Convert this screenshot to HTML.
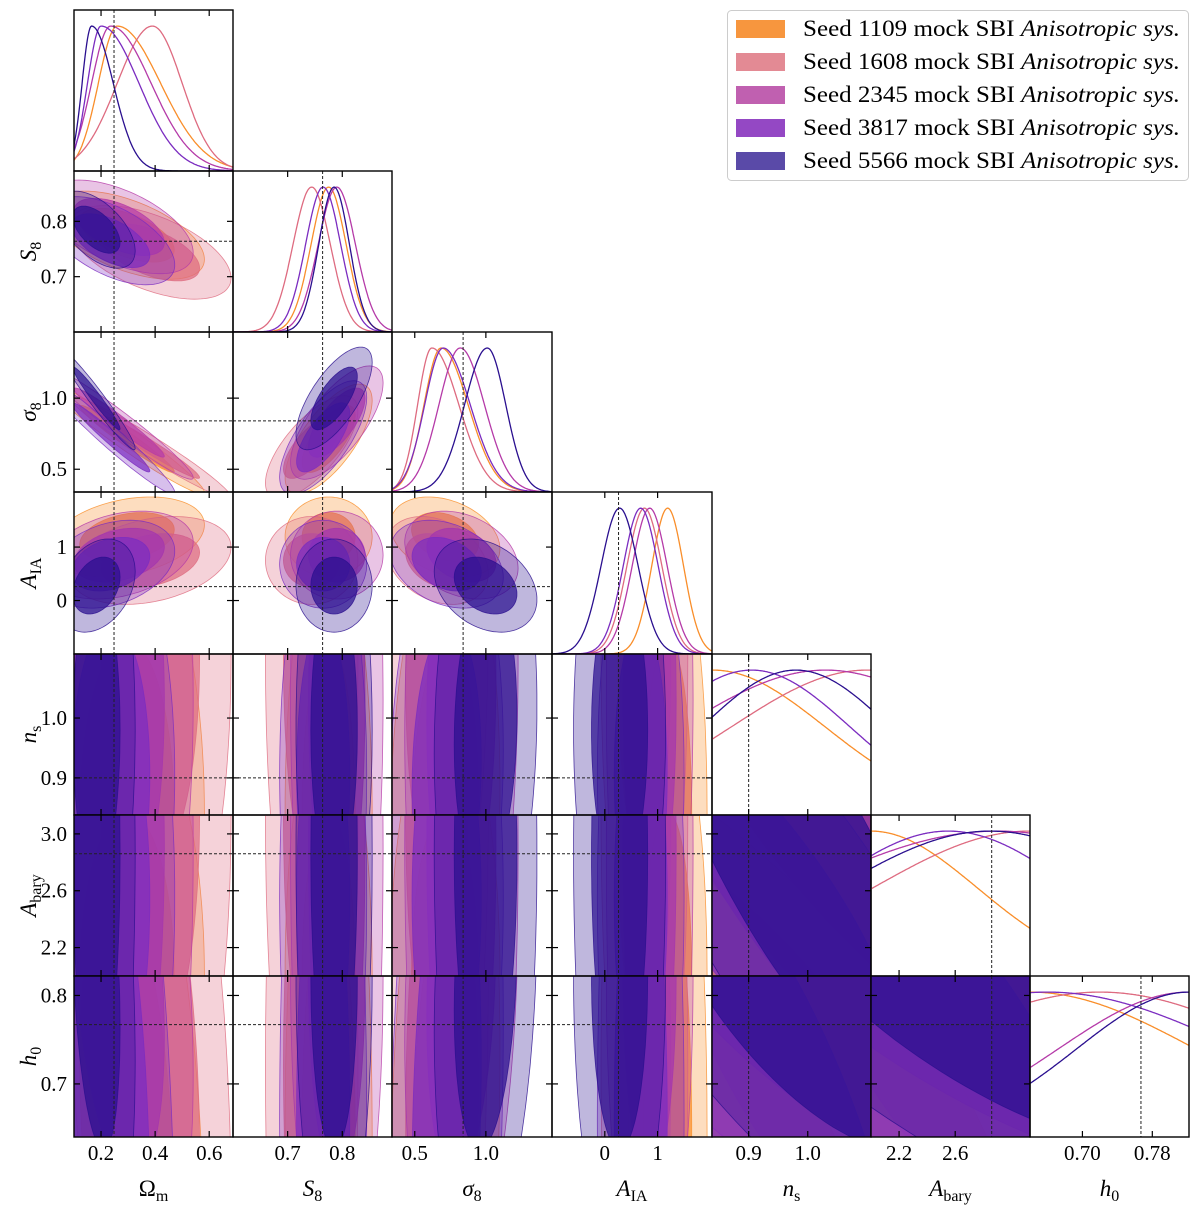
<!DOCTYPE html>
<html><head><meta charset="utf-8"><style>
html,body{margin:0;padding:0;background:#fff;width:1200px;height:1210px;overflow:hidden}
svg{display:block;font-family:"Liberation Serif","DejaVu Serif",serif}
</style></head><body>
<svg id="fig" width="1200" height="1210" viewBox="0 0 1200 1210" xmlns="http://www.w3.org/2000/svg">
<g id="legend">
<rect x="727.5" y="10.5" width="461" height="170" rx="4" fill="#fff" stroke="#ccc"/>
</g>
</svg>
<script>
const seedNames = ["1109","1608","2345","3817","5566"];
const seedColors = ["#f98e2a","#de6b80","#b53aa8","#7b2cc0","#2a0f8f"];
const swatchColors = ["#f7963e","#e38a94","#c060b0","#9448c4","#5a4aa8"];
const paramNames = ["Om","S8","sigma8","AIA","ns","Abary","h0"];
const truth = [0.248,0.764,0.84,0.26,0.9,2.86,0.767];
// per-parameter peak positions for each seed (1109,1608,2345,3817,5566)
const peakOm = [0.26,0.39,0.235,0.20,0.165];
const sdLoOm = [0.07,0.13,0.07,0.05,0.035];
const sdHiOm = [0.16,0.11,0.15,0.14,0.08];
const peakS8 = [0.775,0.744,0.79,0.765,0.785];
const sdS8 = [0.032,0.034,0.034,0.032,0.028];
const peakSig8 = [0.685,0.62,0.82,0.70,1.01];
const sdLoSig8 = [0.12,0.10,0.15,0.13,0.16];
const sdHiSig8 = [0.19,0.19,0.17,0.19,0.13];
const peakAIA = [1.19,0.75,0.85,0.68,0.28];
const sdAIA = [0.30,0.33,0.33,0.33,0.35];
const peakNs = [0.84,1.10,1.03,0.905,0.98];
const sdNs = [0.19,0.23,0.245,0.167,0.16];
const peakAbary = [2.0,3.13,2.9,2.55,2.85];
const sdAbary = [0.76,1.12,1.4,0.9,1.1];
const peakH0 = [0.64,0.72,0.822,0.66,0.822];
const sdH0 = [0.19,0.21,0.15,0.22,0.129];
// correlation between parameter pairs, "i-j"
const corrPairs = ["0-1","0-2","1-2","0-3","1-3","2-3","2-4","4-5","0-6","2-6","4-6","5-6"];
const corrValues = [-0.55,-0.97,0.7,0.3,0.0,-0.3,0.1,-0.8,-0.3,0.2,-0.7,-0.7];
const ticksByParam = [[0.2,0.4,0.6],[0.7,0.8],[0.5,1.0],[0,1],[0.9,1.0],[2.2,2.6,3.0],[0.7,0.8]];
const xTickLabelsByParam = [["0.2","0.4","0.6"],["0.7","0.8"],["0.5","1.0"],["0","1"],["0.9","1.0"],["2.2","2.6",""],["0.70","0.78"]];
const yTickLabelsByParam = [["0.2","0.4","0.6"],["0.7","0.8"],["0.5","1.0"],["0","1"],["0.9","1.0"],["2.2","2.6","3.0"],["0.7","0.8"]];
const xTicksH0 = [0.70,0.78];

const peaks=[peakOm,peakS8,peakSig8,peakAIA,peakNs,peakAbary,peakH0];
const sdLo=[sdLoOm,sdS8,sdLoSig8,sdAIA,sdNs,sdAbary,sdH0];
const sdHi=[sdHiOm,sdS8,sdHiSig8,sdAIA,sdNs,sdAbary,sdH0];
const ranges=[[0.1,0.688],[0.6,0.891],[0.34,1.465],[-1.0,2.03],[0.838,1.107],[2.0,3.133],[0.64,0.822]];
const XE=[74,233,392,552,712,871,1030,1189];
const YE=[10,171,332,492,654,815,976,1137];
const NS="http://www.w3.org/2000/svg";
const svg=document.getElementById('fig');
function mk(tag,attrs,parent){const e=document.createElementNS(NS,tag);for(const k in attrs)e.setAttribute(k,attrs[k]);(parent||svg).appendChild(e);return e;}
function sx(p,v){const r=ranges[p];return XE[p]+(v-r[0])/(r[1]-r[0])*(XE[p+1]-XE[p]);}
function sy(p,v){const r=ranges[p];return YE[p+1]-(v-r[0])/(r[1]-r[0])*(YE[p+1]-YE[p]);}
function corr(i,j){const k=corrPairs.indexOf(Math.min(i,j)+"-"+Math.max(i,j));return k<0?0:corrValues[k];}
function splitN(v,m,a,b){const s=v<m?a:b;return Math.exp(-0.5*((v-m)/s)**2);}
const defs=mk('defs',{});
for(let i=0;i<7;i++){for(let j=0;j<=i;j++){
  const x0=XE[j],x1=XE[j+1],y0=YE[i],y1=YE[i+1];
  const cp=mk('clipPath',{id:'c'+i+'_'+j},defs);mk('rect',{x:x0,y:y0,width:x1-x0,height:y1-y0},cp);
  const g=mk('g',{'clip-path':'url(#c'+i+'_'+j+')'});
  
  
  if(i===j){
    const r=ranges[i];const H=y1-y0;
    for(let s=0;s<5;s++){
      const pts=[];let mx=0;const vals=[];
      for(let k=0;k<=200;k++){const v=r[0]+(r[1]-r[0])*k/200;const d=splitN(v,peaks[i][s],sdLo[i][s],sdHi[i][s]);vals.push([v,d]);if(d>mx)mx=d;}
      for(const [v,d] of vals)pts.push(sx(i,v).toFixed(1)+','+(y1-0.9*H*d/mx).toFixed(1));
      const pl=mk('polyline',{points:pts.join(' '),fill:'none',stroke:seedColors[s],'stroke-width':1.3},g);
      
      
    }
  } else {
    const rho=corr(i,j);
    for(let s=0;s<5;s++){
      const cx=peaks[j][s]+(sdHi[j][s]-sdLo[j][s])*0.4, cy=peaks[i][s]+(sdHi[i][s]-sdLo[i][s])*0.4;
      const ax=(sdLo[j][s]+sdHi[j][s])/2, ay=(sdLo[i][s]+sdHi[i][s])/2;
      [[2.49,0.3],[1.52,0.72]].forEach(([kk,op],lvl)=>{
        const pts=[];
        for(let t=0;t<=120;t++){const a=t/120*2*Math.PI;const u=Math.cos(a),w=Math.sin(a);
          const vx=cx+kk*ax*u, vy=cy+kk*ay*(rho*u+Math.sqrt(1-rho*rho)*w);
          pts.push(sx(j,vx).toFixed(1)+','+sy(i,vy).toFixed(1));}
        const pg=mk('polygon',{points:pts.join(' '),fill:seedColors[s],'fill-opacity':op,stroke:seedColors[s],'stroke-opacity':0.8,'stroke-width':0.8},g);
        
        
      });
    }
    const hl=mk('line',{x1:x0,x2:x1,y1:sy(i,truth[i]),y2:sy(i,truth[i]),stroke:'#222','stroke-width':1,'stroke-dasharray':'3,2'},g);
    
    
  }
  const vl=mk('line',{x1:sx(j,truth[j]),x2:sx(j,truth[j]),y1:y0,y2:y1,stroke:'#222','stroke-width':1,'stroke-dasharray':'3,2'},g);
  
  
  const tg=mk('g',{stroke:'#000','stroke-width':1.2});
  
  
  const xt=(j===6)?xTicksH0:(j===5?[2.2,2.6]:ticksByParam[j]);
  xt.forEach(v=>{const x=sx(j,v);mk('line',{x1:x,x2:x,y1:y1,y2:y1-6},tg);mk('line',{x1:x,x2:x,y1:y0,y2:y0+6},tg);});
  if(i!==j){ticksByParam[i].forEach(v=>{const y=sy(i,v);if(y<y0+2||y>y1-2)return;mk('line',{x1:x0,x2:x0+6,y1:y,y2:y},tg);mk('line',{x1:x1,x2:x1-6,y1:y,y2:y},tg);});}
  const fr=mk('rect',{x:x0,y:y0,width:x1-x0,height:y1-y0,fill:'none',stroke:'#000','stroke-width':1.4});
  
  
}}
for(let j=0;j<7;j++){
  const xt=(j===6)?xTicksH0:ticksByParam[j];
  xt.forEach((v,k)=>{const lab=xTickLabelsByParam[j][k];if(!lab)return;
    const t=mk('text',{x:sx(j,v),y:1160,'font-size':21,'text-anchor':'middle'});t.textContent=lab;
    
    });
}
for(let i=1;i<7;i++){
  ticksByParam[i].forEach((v,k)=>{const y=sy(i,v);if(y<YE[i]+2||y>YE[i+1]-2)return;
    const t=mk('text',{x:67,y:y+7,'font-size':21,'text-anchor':'end'});t.textContent=yTickLabelsByParam[i][k];
    
    });
}
const titlesHTML=[
 ['Ω','m'],['S','8',true],['σ','8',true],['A','IA',true],['n','s',true],['A','bary',true],['h','0',true]];
for(let j=0;j<7;j++){
  const [m,sub,it]=titlesHTML[j];
  const t=mk('text',{x:(XE[j]+XE[j+1])/2,y:1196,'font-size':23,'text-anchor':'middle'});
  
  
  const a=mk('tspan',{'font-style':it?'italic':'normal'},t);a.textContent=m;
  const b=mk('tspan',{'font-size':16,dy:5},t);b.textContent=sub;
  if(j>0){
    const cy=(YE[j]+YE[j+1])/2;
    const t2=mk('text',{x:0,y:0,'font-size':23,'text-anchor':'middle',transform:'translate(36,'+cy+') rotate(-90)'});
    
    
    const a2=mk('tspan',{'font-style':'italic'},t2);a2.textContent=m;
    const b2=mk('tspan',{'font-size':16,dy:5},t2);b2.textContent=sub;
  }
}
const lg=document.getElementById('legend');
for(let s=0;s<5;s++){
  const y=29+33*s;
  const r=mk('rect',{x:736,y:y-9,width:49,height:18,fill:swatchColors[s]},lg);
  
  
  const t=mk('text',{x:803,y:y+7,'font-size':23,textLength:377,lengthAdjust:'spacingAndGlyphs'},lg);
  
  
  const a=mk('tspan',{},t);a.textContent='Seed '+seedNames[s]+' mock SBI ';
  const b=mk('tspan',{'font-style':'italic'},t);b.textContent='Anisotropic sys.';
}
svg.appendChild(lg);
</script>
</body></html>
